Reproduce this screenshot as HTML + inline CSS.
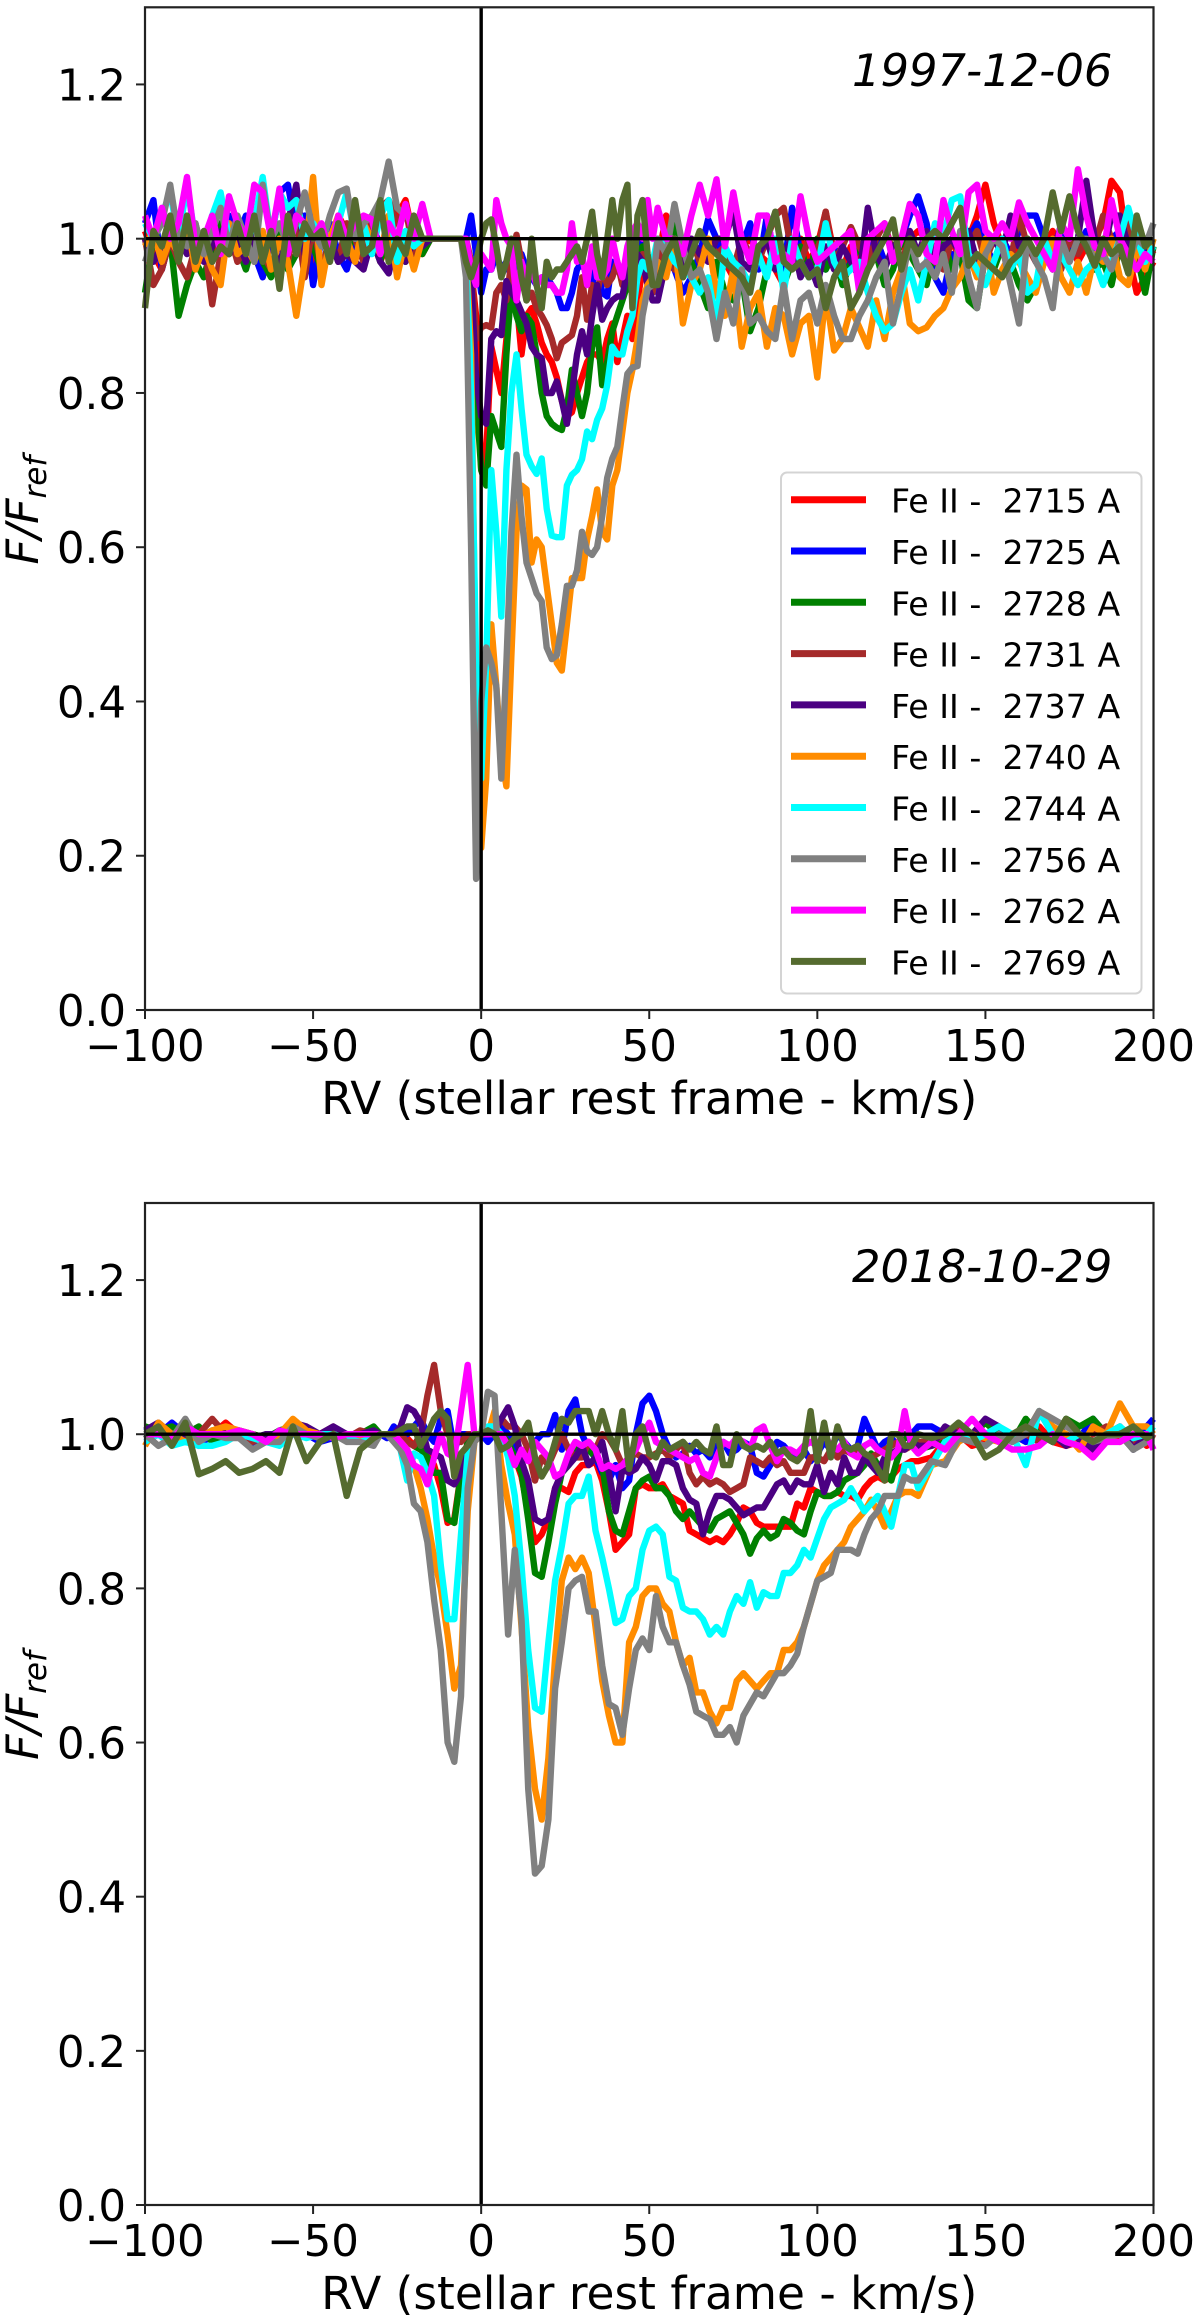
<!DOCTYPE html>
<html lang="en">
<head>
<meta charset="utf-8">
<title>Fe II line profiles 1997 and 2018</title>
<style>
html,body{margin:0;padding:0;background:#fff;}
svg{display:block;font-family:"DejaVu Sans","Liberation Sans",sans-serif;}
</style>
</head>
<body>
<svg id="chart" xmlns="http://www.w3.org/2000/svg" width="1200" height="2321" viewBox="0 0 1200 2321"></svg>
<script>
const seriesLabels=["Fe II -  2715 A","Fe II -  2725 A","Fe II -  2728 A","Fe II -  2731 A","Fe II -  2737 A","Fe II -  2740 A","Fe II -  2744 A","Fe II -  2756 A","Fe II -  2762 A","Fe II -  2769 A"];
const seriesColors=["#ff0000","#0000ff","#008000","#a52a2a","#4b0082","#ff8c00","#00ffff","#808080","#ff00ff","#556b2f"];
const xTicks=[-100,-50,0,50,100,150,200];
const yTicks=[0,0.2,0.4,0.6,0.8,1.0,1.2];
const panelDates=["1997-12-06","2018-10-29"];

const rv1997=[-100,-97.5,-95,-92.5,-90,-87.5,-85,-82.5,-80,-77.5,-75,-72.5,-70,-67.5,-65,-62.5,-60,-57.5,-55,-52.5,-50,-47.5,-45,-42.5,-40,-37.5,-35,-32.5,-30,-27.5,-25,-22.5,-20,-17.5,
-15,-6,
-4.5,-3,-1.5,0,1.5,3,4.5,6,7.5,9,10.5,12,13.5,15,16.5,18,19.5,21,22.5,24,25.5,27,28.5,30,31.5,33,34.5,36,37.5,39,40.5,42,43.5,45,46.5,48,49.5,51,
52.5,55,57.5,60,62.5,65,67.5,70,72.5,75,77.5,80,82.5,85,87.5,90,92.5,95,97.5,100,102.5,105,107.5,110,112.5,115,117.5,120,122.5,125,127.5,130,132.5,135,137.5,140,142.5,145,147.5,150,152.5,155,157.5,160,162.5,165,167.5,170,172.5,175,177.5,180,182.5,185,187.5,190,192.5,195,197.5,200];

const flux1997_2715=[1.01,.98,.96,1.0,.99,1.02,.98,1.0,.97,1.01,.99,1.02,.98,.99,.97,1.0,.96,1.01,1.04,1.02,.97,1.0,.98,1.03,1.01,.98,1.0,1.02,.97,1.0,1.03,1.05,1.0,.98,
1,1,.99,.96,.90,.70,.72,.86,.83,.80,.87,.93,.92,.85,.90,.91,.89,.865,.85,.84,.82,.79,.77,.775,.80,.82,.84,.85,.85,.84,.87,.89,.84,.87,.90,.87,.92,.96,.97,.96,
.97,1.03,.98,1.0,.95,.97,.99,1.0,.97,.95,.99,1.0,.98,.97,.96,.94,.98,1.0,.97,.99,1.035,.98,.96,.99,.97,.98,1.0,.97,.98,.99,1.0,1.01,1.0,.97,.99,1.0,.97,1.0,1.03,1.07,1.02,.99,1.02,.98,1.0,.97,.99,1.01,.98,1.0,.97,.99,1.0,1.02,1.075,1.06,.98,.93,.95,.97];
const flux1997_2725=[1.02,1.05,.96,1.0,.98,1.02,1.0,.98,1.03,.99,1.03,1.0,1.03,.98,.95,1.0,1.06,1.07,1.01,1.03,.94,1.0,1.02,.98,.96,1.0,.98,1.02,.99,1.0,.96,1.0,.98,1.0,
1,1,1.0,1.03,.98,.93,.96,.96,.98,.96,.97,.95,.97,.98,.96,.95,.94,.95,.95,.94,.93,.91,.91,.93,.96,.97,.95,.94,.97,.93,.925,.97,.96,.95,.98,.97,.99,1.0,.95,.94,
.93,.97,.96,.93,.95,.98,1.025,1.0,.97,.96,.99,1.02,.96,1.03,.97,.96,1.04,.98,.96,.98,.96,.99,.95,.97,.99,.98,1.0,.97,.98,1.0,1.03,1.055,1.02,.95,.93,.98,.97,1.0,1.02,.99,.97,1.0,.98,1.01,1.03,1.03,1.0,.97,1.02,.98,.99,1.01,.97,.99,1.0,1.01,.98,1.0,.98,.99];
const flux1997_2728=[.93,1.0,.98,1.0,.90,.94,.97,.95,.99,1.02,.98,.99,.96,1.0,.97,.95,1.01,.96,.98,1.0,.99,.96,1.0,.97,.98,1.01,.98,1.0,.97,1.02,.98,.97,1.0,.98,
1,1,.99,.94,.80,.70,.68,.77,.75,.73,.85,.94,.90,.88,.90,.89,.85,.80,.77,.76,.755,.752,.78,.83,.80,.77,.80,.86,.885,.81,.84,.88,.90,.92,.94,.93,.98,.99,.96,.95,
.98,.97,1.03,.95,.97,.94,.91,.97,.93,.92,.95,.88,.91,.96,.98,.94,.97,.99,.95,1.0,.96,.98,.94,.97,.99,.96,.98,.94,.96,1.0,.98,.96,.94,.99,1.0,.96,.98,.92,.91,.98,.96,.99,.97,.94,.92,.94,.98,.96,.97,.98,.99,1.0,.96,.97,.94,.99,.96,.98,.93,.99];
const flux1997_2731=[1.0,.94,.96,1.0,.97,.95,.99,1.0,.915,.98,1.01,.97,.99,1.0,.98,.96,1.0,.97,1.03,.95,1.02,.96,1.0,.97,1.02,1.0,.97,1.03,1.04,1.05,1.02,1.04,.98,1.0,
1,1,1.0,.97,.87,.885,.888,.885,.93,.94,.92,.97,1.005,.97,.92,.93,.91,.90,.888,.87,.845,.865,.87,.875,.90,.95,.895,.94,.93,.96,.94,.95,.97,.94,.96,.98,.97,.98,.96,.93,
.97,1.0,.96,.99,1.0,.97,1.0,.98,.99,.96,1.0,.98,.97,1.0,1.03,1.04,.98,.97,1.0,.98,1.035,.97,.99,1.015,.99,.97,1.0,1.02,.98,.97,1.0,.98,1.0,.97,.96,1.0,.98,.99,1.01,.97,1.0,.98,.97,1.03,.99,.97,1.0,.98,.96,1.0,.98,1.0,.99,1.03,1.0,.98,1.02,.97,1.0,.98];
const flux1997_2737=[1.0,.97,.99,1.01,1.0,.98,1.02,.97,.99,1.01,.98,1.0,.97,1.01,.99,1.0,.96,1.02,1.07,.98,1.03,.99,1.0,.97,.98,.97,.96,1.0,.97,.955,1.0,.97,1.0,.99,
1,1,.99,.95,.82,.77,.76,.87,.88,.875,.945,.93,.92,.905,.89,.86,.85,.845,.80,.80,.815,.79,.76,.80,.85,.88,.85,.90,.94,.895,.91,.92,.925,.925,.96,.95,.98,.97,.94,.92,
.92,.97,.99,.96,1.0,.98,.97,1.0,1.0,1.035,.97,.96,.98,1.0,.96,.98,1.0,.95,.97,.94,.99,.96,.99,.97,.95,1.04,.98,.96,.99,1.0,1.01,.98,1.01,.97,.99,1.0,.98,1.01,.97,.99,1.0,.98,1.03,.99,1.0,.97,.98,1.0,1.0,.97,1.0,1.075,1.0,.98,1.03,1.03,.99,1.0,.97,1.0];
const flux1997_2740=[.99,1.01,.97,1.0,.98,1.02,.96,.99,.96,.94,1.02,.98,.99,.97,1.01,.96,1.0,.97,.90,.97,1.08,.94,1.0,1.03,1.0,.97,1.02,1.0,.98,1.03,.95,1.0,.96,1.0,
1,1,.99,.85,.40,.21,.30,.50,.42,.33,.29,.46,.62,.68,.675,.58,.61,.60,.55,.50,.45,.44,.50,.56,.56,.56,.61,.64,.675,.62,.61,.68,.70,.75,.80,.83,.87,.92,.94,.95,
.97,.95,1.0,.89,.94,.96,1.0,.93,.90,.96,.86,.91,.93,.86,.91,.90,.85,.89,.90,.82,.93,.855,.87,.91,.885,.86,.92,.87,.93,.96,.89,.88,.885,.90,.91,.935,.95,.98,.95,1.0,.93,.96,.98,.97,.95,.93,.97,1.0,.95,.93,.97,.93,.98,.97,1.0,.95,.94,.99,.96,1.0];
const flux1997_2744=[1.02,1.0,1.03,1.06,1.0,1.07,1.0,.99,1.03,1.06,1.0,1.02,.99,1.02,1.08,1.0,1.06,1.04,1.05,1.0,1.02,1.0,.98,1.02,1.06,1.0,1.02,.98,1.03,1.05,.97,1.01,.99,1.0,
1,1,.98,.80,.45,.30,.45,.70,.62,.51,.70,.80,.85,.78,.72,.705,.695,.715,.65,.615,.613,.613,.68,.694,.70,.714,.75,.74,.765,.78,.81,.86,.85,.85,.88,.90,.95,.97,.96,.97,
1.0,.99,.97,.96,.95,.93,.95,.89,.99,.97,.96,.94,.98,.95,1.0,.93,1.0,.97,.95,.96,1.02,.97,.95,.96,.97,.93,.90,.88,.89,.93,.96,.92,.97,1.02,1.0,1.05,1.055,.98,.96,.94,.97,1.0,.96,.98,.93,.94,1.0,.97,.98,.96,.94,.96,.97,.94,.97,1.0,1.04,1.0,.97,.99];
const flux1997_2756=[.97,1.0,1.02,1.07,1.0,.99,1.02,.98,1.01,1.04,.99,1.03,1.0,.97,1.07,1.0,1.02,.99,1.02,1.06,1.01,.99,1.03,1.06,1.065,1.0,1.02,1.03,1.05,1.10,1.04,1.03,1.02,1.0,
1,1,.95,.60,.17,.40,.47,.45,.42,.30,.45,.62,.72,.64,.58,.56,.54,.53,.47,.455,.46,.50,.55,.55,.57,.62,.595,.59,.60,.64,.69,.715,.73,.78,.825,.833,.835,.90,.935,.94,
1.0,.98,1.045,.99,.95,.96,.93,.87,.93,.89,.96,.89,.90,.88,.87,.94,.87,.92,.93,.89,.94,.90,.87,.87,.90,.92,.95,.97,.89,.94,1.0,.96,.97,.95,.98,.93,1.01,.95,.91,.98,1.0,.99,.94,.89,1.0,.97,.95,.91,1.0,.97,1.0,1.0,.97,.98,.96,1.0,.97,1.0,.99,1.02];
const flux1997_2762=[1.03,1.0,1.04,1.0,1.02,1.08,.99,1.0,1.03,.98,1.055,1.02,1.0,1.07,1.06,1.0,1.065,.98,1.03,1.02,1.0,1.02,.98,1.03,1.0,1.02,1.03,1.025,.98,1.02,1.0,1.045,1.0,1.045,
1,1,1.0,.96,.94,.98,.97,.96,1.05,1.02,1.0,.99,.92,.97,.95,.96,.94,.95,.94,.94,.93,.93,.96,1.02,.97,.98,.94,.99,.95,.95,.96,1.0,.97,.95,.99,1.01,1.02,1.0,1.05,1.0,
1.04,1.0,1.0,.98,1.03,1.07,1.03,1.077,.99,1.06,1.0,.97,1.03,1.03,.97,.98,.97,1.055,1.0,.97,.98,.99,1.0,1.01,.93,1.0,1.01,1.02,.97,1.0,1.045,1.03,.98,.97,1.05,1.01,.98,1.06,1.07,1.01,1.0,1.02,1.0,1.047,1.02,1.0,.98,.96,1.02,1.0,1.09,1.03,.99,.98,1.05,1.0,.98,.96,.98,.97];
const flux1997_2769=[.91,1.01,.99,1.03,.97,1.03,.97,1.01,.97,.99,.98,1.02,.98,1.03,.97,1.01,.935,1.03,.98,1.02,1.0,1.01,.97,1.02,.98,1.05,.98,.99,1.05,.97,1.0,.98,1.03,1.0,
1,1,.97,.95,.97,1.0,1.02,1.025,.99,.95,.97,1.0,.995,.95,.92,1.0,.94,.91,.97,.95,.96,.96,.97,.98,.99,.97,1.0,1.035,.98,.95,1.0,1.05,1.0,1.05,1.07,.91,1.03,1.05,.98,.94,
.94,.98,1.0,.95,.98,1.01,.99,.98,.97,.96,.95,.93,.99,1.0,1.035,.97,.96,.97,.95,.96,.91,.95,.97,.91,.93,.96,.98,1.0,1.025,.96,1.0,.98,1.0,1.01,1.0,1.02,1.04,.965,.98,.97,.96,.95,.97,.98,1.0,.98,1.0,1.06,1.01,1.055,1.01,.99,.965,1.0,.98,.99,.955,1.03,.99,1.0];

const rv2018=[-100,-96,-92,-88,-84,-80,-76,-72,-68,-64,-60,-56,-52,-48,-44,-40,-36,-32,
-30,-28,-26,-24,-22,-20,-18,-16,-14,-12,-10,-8,-6,-4,-2,0,2,4,6,8,10,12,14,16,18,20,22,24,26,28,30,32,34,36,38,40,42,44,46,48,50,52,54,56,58,60,62,64,66,68,70,72,74,76,78,80,82,84,86,88,90,92,94,96,98,100,102,104,106,108,110,112,114,116,118,120,122,124,126,128,130,
134,138,142,146,150,154,158,162,166,170,174,178,182,186,190,194,198,200];

const flux2018_2715=[1.0,1.005,.995,1.0,.99,1.0,1.015,1.0,1.0,.995,1.0,1.01,1.0,.995,1.0,1.0,.995,.995,
1.0,1.0,.995,.99,.995,.985,.98,.975,.96,.93,.885,.89,.95,.99,1.0,1.0,1.0,1.01,.99,.98,.97,.945,.90,.86,.87,.89,.93,.93,.925,.95,.96,.96,.965,.94,.90,.85,.86,.87,.93,.935,.93,.93,.935,.92,.915,.91,.875,.87,.865,.86,.865,.86,.87,.885,.905,.90,.885,.88,.88,.88,.88,.88,.91,.905,.93,.925,.92,.92,.925,.92,.92,.915,.93,.94,.945,.94,.945,.955,.96,.965,.965,
.97,.99,1.0,.985,.99,1.0,1.0,.99,1.01,.99,.985,.99,.98,1.0,.99,1.0,.985,1.0];
const flux2018_2725=[1.01,1.0,1.015,1.0,.985,1.0,1.0,.995,.985,1.0,.995,1.0,1.0,.99,.995,1.0,.995,1.0,
1.0,.995,1.01,1.0,1.0,1.01,1.02,1.0,.99,1.02,1.03,.98,1.0,1.0,.995,1.0,.99,1.0,1.01,1.0,.99,.97,.98,.99,1.0,1.0,1.025,.98,1.03,1.045,1.0,.98,.97,.95,.94,.96,.93,.94,1.0,1.04,1.05,1.03,1.0,.98,.97,.975,.985,.975,.98,.97,.985,.99,.975,.98,.99,.985,.95,.945,.96,.99,.985,.975,.97,.98,.965,.975,.99,.98,1.0,.99,.98,.985,1.02,1.0,.98,.99,.995,.985,1.0,1.0,1.01,
1.01,1.0,1.01,1.0,1.0,.995,1.0,.99,1.0,.99,1.015,.995,1.02,1.0,1.0,.995,1.01,1.02];
const flux2018_2728=[1.01,1.005,1.01,1.0,1.01,.99,1.0,1.005,1.0,.995,1.005,1.01,1.0,.995,1.005,1.0,1.0,1.01,
1.0,1.0,1.0,.995,.99,.985,.98,.97,.95,.95,.89,.885,.95,.99,1.0,1.0,1.0,1.01,1.0,.99,.97,.95,.89,.82,.815,.86,.91,.95,.96,.98,.985,.98,.97,.96,.90,.875,.87,.90,.93,.94,.945,.93,.93,.92,.90,.89,.90,.89,.88,.875,.89,.895,.90,.885,.87,.845,.865,.875,.865,.87,.89,.885,.875,.87,.90,.925,.92,.92,.925,.94,.945,.95,.96,.975,.96,.95,.94,.97,1.0,.99,.98,
.985,.99,1.01,1.0,1.015,1.0,.99,1.02,1.0,.99,1.02,1.01,1.02,1.0,1.0,.98,1.0,1.0];
const flux2018_2731=[1.0,1.005,1.0,.995,1.0,1.02,1.0,1.0,.99,1.0,1.0,1.0,1.0,1.0,1.01,.995,1.005,1.0,
1.0,1.0,1.0,1.0,.99,.985,1.0,1.05,1.09,1.03,1.0,.995,.99,1.0,1.0,1.0,1.0,1.01,1.02,1.01,1.01,1.0,.98,.94,.97,.96,.98,1.0,.98,.97,.97,.99,.98,1.0,.995,.98,.96,.97,.975,.97,.97,.975,.98,.97,.98,.99,.95,.935,.945,.935,.94,.935,.925,.93,.935,.97,.965,.96,.97,.96,.965,.95,.95,.95,.97,.97,.965,.98,.97,.98,.975,.98,.975,.97,.975,.98,.985,.99,.98,.985,.99,
.99,1.0,1.01,.995,1.0,.99,1.0,1.0,.99,1.0,1.0,.99,1.0,1.01,1.0,.985,1.0,1.0];
const flux2018_2737=[1.005,1.015,1.0,1.0,.995,1.005,1.0,1.0,.995,1.0,1.0,1.015,1.01,1.0,1.01,1.0,1.0,1.005,
1.0,1.0,1.0,1.01,1.035,1.03,1.015,.98,.975,.97,.94,.935,.95,.985,1.0,1.0,1.0,1.0,1.02,1.035,1.01,.965,.94,.89,.885,.89,.93,.95,.96,.97,.985,.96,.97,.99,.95,.90,.955,.95,.955,.97,.96,.94,.965,.965,.96,.93,.915,.91,.87,.90,.92,.92,.915,.905,.895,.90,.905,.905,.92,.935,.94,.925,.94,.935,.935,.96,.925,.95,.935,.97,.95,.95,.97,.96,.95,.97,.975,.98,.98,.99,.985,
.985,1.01,1.0,1.0,1.02,1.01,.995,1.0,1.03,1.0,.985,.995,.98,1.0,1.01,.98,1.0,1.0];
const flux2018_2740=[.985,1.015,1.0,.99,.995,1.005,1.01,1.005,1.0,.99,1.0,1.02,1.005,1.0,1.0,.995,.995,.995,
1.0,1.0,1.0,.99,.98,.96,.93,.89,.84,.80,.74,.67,.70,.90,.99,1.0,1.0,1.03,.96,.91,.87,.75,.62,.54,.50,.58,.71,.81,.84,.825,.84,.82,.75,.68,.635,.60,.60,.73,.75,.79,.80,.80,.78,.77,.73,.70,.71,.665,.665,.64,.625,.645,.645,.68,.69,.68,.67,.68,.69,.69,.72,.72,.73,.75,.78,.81,.83,.84,.85,.86,.88,.89,.90,.915,.90,.88,.90,.92,.925,.925,.92,
.96,.965,.99,1.0,.995,.99,1.0,1.0,1.03,1.01,1.0,.98,1.01,1.0,1.04,1.01,1.01,1.0];
const flux2018_2744=[.99,1.0,.985,.99,.985,.985,.99,1.0,.995,.99,.985,1.0,.995,1.0,1.0,.995,.99,.995,
1.0,1.0,.995,.98,.94,.975,.97,.95,.92,.83,.76,.76,.87,.975,1.0,1.0,1.01,1.01,1.0,.97,.92,.83,.72,.645,.64,.73,.81,.855,.91,.92,.92,.945,.875,.84,.80,.755,.76,.79,.80,.85,.875,.88,.87,.815,.81,.775,.77,.77,.76,.74,.75,.74,.77,.79,.78,.808,.775,.795,.79,.79,.82,.82,.83,.85,.84,.865,.89,.905,.91,.915,.93,.915,.90,.91,.92,.90,.88,.92,.96,.96,.93,
.96,.99,1.0,.99,1.0,1.01,1.0,.96,1.03,1.0,.99,1.0,.99,1.0,1.01,.995,1.0,1.01];
const flux2018_2756=[1.0,.985,.995,1.02,.99,1.0,.995,.995,.98,.99,.99,1.01,1.0,.995,1.0,.99,.99,.985,
1.0,1.0,.99,.98,.96,.91,.90,.86,.785,.72,.60,.575,.66,.93,.99,1.0,1.055,1.05,.90,.74,.85,.76,.54,.43,.44,.50,.67,.73,.80,.81,.815,.77,.77,.70,.65,.645,.61,.67,.72,.735,.72,.79,.75,.73,.73,.70,.675,.64,.635,.63,.61,.61,.62,.60,.635,.65,.665,.66,.675,.69,.69,.70,.715,.75,.78,.81,.815,.82,.85,.85,.85,.845,.87,.89,.90,.92,.92,.92,.945,.94,.94,
.965,.96,.995,.99,.985,1.0,.99,1.0,1.03,1.02,1.01,1.0,.99,.995,1.0,.98,.99,1.0];
const flux2018_2762=[1.0,1.0,.995,1.01,1.0,1.0,1.0,1.005,1.0,.99,1.005,1.0,1.0,1.0,.995,1.0,1.0,1.0,
1.0,1.0,1.0,.99,.98,.96,.955,.935,.97,1.0,.975,.97,1.03,1.09,1.0,1.0,1.0,1.0,1.0,.985,.96,.98,.965,.99,.98,.97,.945,.95,.975,.99,.985,.99,.98,.955,.96,.955,.96,.97,.98,1.0,1.015,.99,.985,.98,.975,.97,.965,.97,.95,.945,.97,.99,.985,.995,.99,.98,1.005,1.01,.985,.965,.98,.98,.975,.985,.99,.985,1.0,.985,.98,.99,.975,.97,.985,.99,.98,.975,.97,.98,1.03,.985,.975,
.99,.98,1.0,1.02,1.0,.99,.98,.98,.985,1.0,.99,.985,.97,.99,.99,1.0,1.0,.98];
const flux2018_2769=[1.0,1.01,.985,1.015,.948,.955,.965,.95,.955,.965,.95,1.01,.965,.99,1.0,.92,.98,.995,
1.0,1.0,1.0,1.005,1.01,1.01,.985,1.0,1.02,1.03,1.02,.945,.975,.985,1.0,1.0,1.005,1.0,.98,.985,.995,1.0,1.015,.97,.945,.96,.99,1.02,1.015,1.03,1.03,1.03,1.0,1.03,1.0,.98,1.03,.955,1.0,1.01,.975,.97,.99,.98,.985,.99,.98,.99,.98,.975,1.01,.96,.96,1.0,.985,.98,.985,.98,.99,.975,.98,.97,.965,.975,1.03,.965,1.015,.97,1.01,.985,.98,.985,.975,.97,.955,.94,1.0,1.0,.985,.985,1.0,
.995,1.0,1.015,1.0,.97,.98,1.0,1.01,1.0,.99,1.02,1.0,.99,1.0,1.0,1.01,.995,1.0];

const series1997=[flux1997_2715,flux1997_2725,flux1997_2728,flux1997_2731,flux1997_2737,flux1997_2740,flux1997_2744,flux1997_2756,flux1997_2762,flux1997_2769];
const series2018=[flux2018_2715,flux2018_2725,flux2018_2728,flux2018_2731,flux2018_2737,flux2018_2740,flux2018_2744,flux2018_2756,flux2018_2762,flux2018_2769];

const NS='http://www.w3.org/2000/svg';
const root=document.getElementById('chart');
const X0=145,X1=1153.5;
function xScale(v){return X0+(v+100)/300*(X1-X0);}
function make(tag,attrs,parent,text){
  const el=document.createElementNS(NS,tag);
  for(const k in attrs){el.setAttribute(k,attrs[k]);}
  if(text!==undefined){el.textContent=text;}
  parent.appendChild(el);
  return el;
}
function drawPanel(top,bottom,dateText,dateBase,rv,series,suffix,withLegend){
  const yScale=function(f){return bottom-(f/1.3)*(bottom-top);};
  const g=make('g',{},root);
  
  

  series.forEach(function(vals,s){
    const pts=[];
    vals.forEach(function(f,i){pts.push(xScale(rv[i]).toFixed(1)+','+yScale(f).toFixed(1));});
    const line=make('polyline',{points:pts.join(' '),fill:'none',stroke:seriesColors[s],'stroke-width':6.4,'stroke-linejoin':'round','stroke-linecap':'butt'},g);
    
    
  });

  const hline=make('line',{x1:X0,x2:X1,y1:yScale(1),y2:yScale(1),stroke:'#000','stroke-width':3.4},g);
  
  
  const vline=make('line',{x1:xScale(0),x2:xScale(0),y1:top,y2:bottom,stroke:'#000','stroke-width':3.4},g);
  
  

  const frame=make('rect',{x:X0,y:top,width:X1-X0,height:bottom-top,fill:'none',stroke:'#222','stroke-width':2.2},g);
  
  

  xTicks.forEach(function(t){
    const tick=make('line',{x1:xScale(t),x2:xScale(t),y1:bottom,y2:bottom+9,stroke:'#222','stroke-width':2},g);
    
    
    const lab=make('text',{x:xScale(t),y:bottom+51,'text-anchor':'middle','font-size':43.5,fill:'#000'},g,t<0?'\u2212'+Math.abs(t):String(t));
    
    
  });
  yTicks.forEach(function(t){
    const tick=make('line',{x1:X0-9,x2:X0,y1:yScale(t),y2:yScale(t),stroke:'#222','stroke-width':2},g);
    
    
    const lab=make('text',{x:X0-19,y:yScale(t)+16,'text-anchor':'end','font-size':43.5,fill:'#000'},g,t.toFixed(1));
    
    
  });

  const xt=make('text',{x:(X0+X1)/2,y:bottom+104,'text-anchor':'middle','font-size':45.4,fill:'#000'},g,'RV (stellar rest frame - km/s)');
  
  

  const cy=(top+bottom)/2;
  const yt=make('text',{x:0,y:0,transform:'translate(38,'+(cy+56)+') rotate(-90)','font-size':44.5,'font-style':'italic',fill:'#000'},g);
  
  
  make('tspan',{},yt,'F/F');
  make('tspan',{'font-size':31,dy:8},yt,'ref');

  const dt=make('text',{x:852,y:dateBase,'font-size':44.8,'font-style':'italic',fill:'#000'},g,dateText);
  
  

  if(withLegend){
    const lg=make('g',{},g);
    
    
    const box=make('rect',{x:781,y:472.5,width:360.5,height:521,rx:6,ry:6,fill:'#fff','fill-opacity':0.85,stroke:'#d4d4d4','stroke-width':2},lg);
    
    
    seriesLabels.forEach(function(label,s){
      const y=499.7+s*51.3;
      const h=make('line',{x1:791,x2:866,y1:y,y2:y,stroke:seriesColors[s],'stroke-width':7},lg);
      
      
      const t=make('text',{x:891,y:y+13,'font-size':33.2,fill:'#000','xml:space':'preserve',style:'white-space:pre'},lg,label);
      
      
    });
  }
}
drawPanel(7.3,1010,panelDates[0],86,rv1997,series1997,'1997',true);
drawPanel(1203,2205,panelDates[1],1282,rv2018,series2018,'2018',false);
</script>
</body>
</html>
